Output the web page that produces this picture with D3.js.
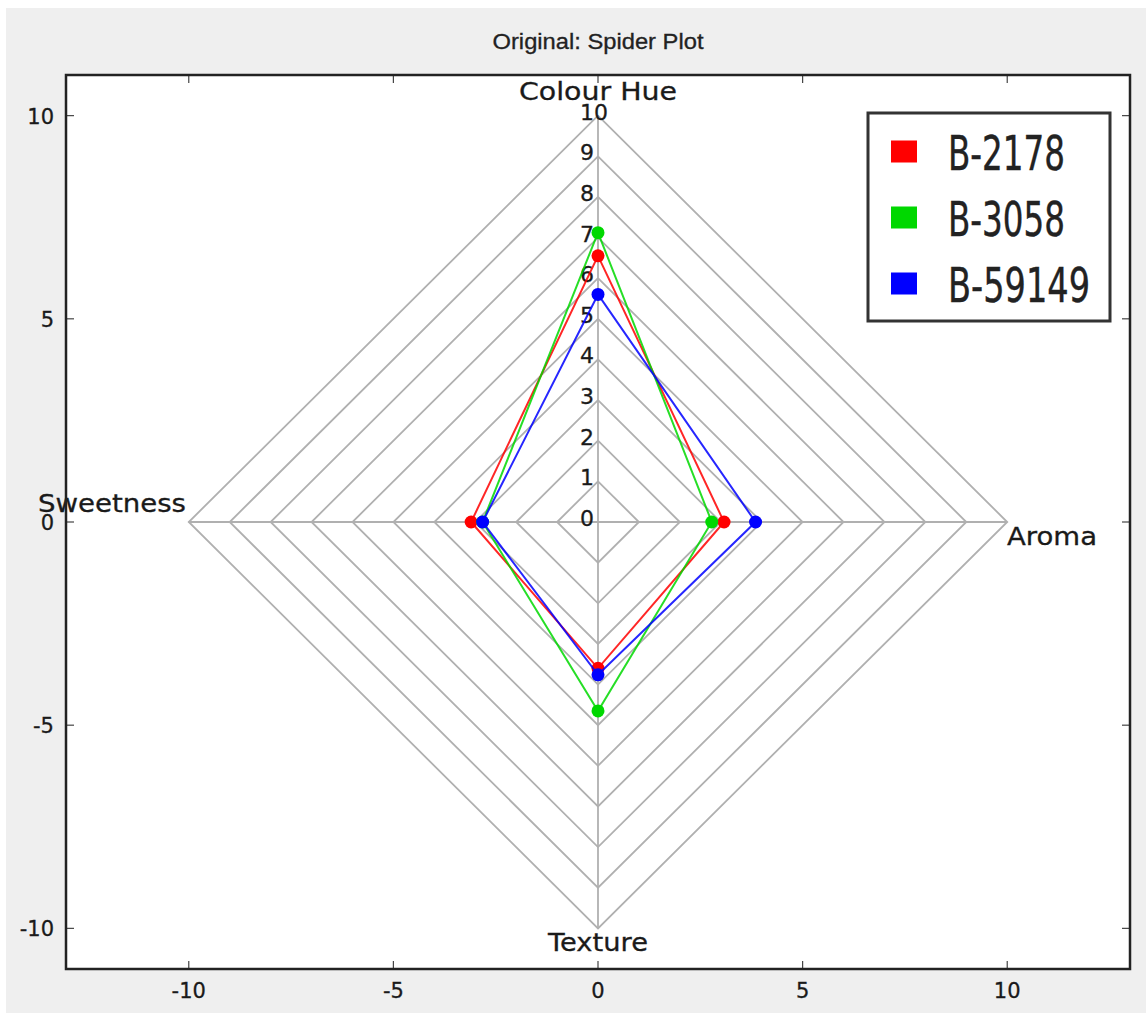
<!DOCTYPE html>
<html>
<head>
<meta charset="utf-8">
<script src="https://cdn.jsdelivr.net/npm/d3@7"></script>
<style>
  html, body { margin: 0; padding: 0; background: #ffffff; }
  svg { display: block; }
</style>
</head>
<body>
<script>
// ---- data ----
const axesNames = ["Colour Hue", "Aroma", "Texture", "Sweetness"];
const seriesNames = ["B-2178", "B-3058", "B-59149"];
const seriesColors = ["#ff0000", "#00d800", "#0000ff"];
const valuesB2178 = [6.55, 3.08, 3.6, 3.1];
const valuesB3058 = [7.12, 2.78, 4.65, 2.82];
const valuesB59149 = [5.6, 3.85, 3.76, 2.82];
const seriesValues = [valuesB2178, valuesB3058, valuesB59149];
const ringLevels = [0, 1, 2, 3, 4, 5, 6, 7, 8, 9, 10];
const axisTicks = [-10, -5, 0, 5, 10];
const titleText = "Original: Spider Plot";

// ---- layout ----
const W = 1146, H = 1013;
const svg = d3.select("body").append("svg").attr("width", W).attr("height", H);
svg.append("rect").attr("x", 6).attr("y", 8).attr("width", W - 6).attr("height", H - 8).attr("fill", "#efefef");

const L = 66, R = 1130, T = 75, B = 969;
const x = d3.scaleLinear().domain([-13, 13]).range([L, R]);
const y = d3.scaleLinear().domain([-11, 11]).range([B, T]);

svg.append("rect").attr("x", L).attr("y", T).attr("width", R - L).attr("height", B - T).attr("fill", "#ffffff");

// direction vectors: up, right, down, left
const dirs = [[0, 1], [1, 0], [0, -1], [-1, 0]];
const pt = (i, v) => [x(dirs[i][0] * v), y(dirs[i][1] * v)];

const g = svg.append("g");
const line = d3.line();
// rings
ringLevels.filter(r => r > 0).forEach(r => {
  const pts = dirs.map((d, i) => pt(i, r));
  pts.push(pts[0]);
  g.append("path").attr("d", line(pts)).attr("fill", "none")
    .attr("stroke", "#b0b0b0").attr("stroke-width", 1.8);
});
// spokes
dirs.forEach((d, i) => {
  const p0 = pt(i, 0), p1 = pt(i, 10);
  g.append("line").attr("x1", p0[0]).attr("y1", p0[1]).attr("x2", p1[0]).attr("y2", p1[1])
    .attr("stroke", "#b0b0b0").attr("stroke-width", 1.8);
});

// ring labels
ringLevels.forEach(r => {
  g.append("text").attr("x", x(0) - 18).attr("y", y(r) + 4)
    .attr("font-family", "DejaVu Sans").attr("font-size", 22).attr("fill", "#1a1a1a")
    .attr("stroke", "#1a1a1a").attr("stroke-width", 0.3)
    .text(r);
});

// axis labels
const lab = [
  {t: axesNames[0], x: x(0), y: 100, a: "middle", w: 158},
  {t: axesNames[1], x: 1007, y: 545, a: "start", w: 90},
  {t: axesNames[2], x: x(0), y: 951, a: "middle", w: 100},
  {t: axesNames[3], x: 186, y: 512, a: "end", w: 148}
];
lab.forEach(l => {
  g.append("text").attr("x", l.x).attr("y", l.y).attr("text-anchor", l.a)
    .attr("font-family", "DejaVu Sans").attr("font-size", 24).attr("fill", "#1a1a1a")
    .attr("stroke", "#1a1a1a").attr("stroke-width", 0.3)
    .attr("textLength", l.w).attr("lengthAdjust", "spacingAndGlyphs")
    .text(l.t);
});

// series
seriesValues.forEach((vals, si) => {
  const pts = vals.map((v, i) => pt(i, v));
  const closed = pts.concat([pts[0]]);
  g.append("path").attr("d", line(closed)).attr("fill", "none")
    .attr("stroke", seriesColors[si]).attr("stroke-width", 2).attr("opacity", 0.85);
  g.selectAll(null).data(pts).enter().append("circle")
    .attr("cx", d => d[0]).attr("cy", d => d[1]).attr("r", 6.5)
    .attr("fill", seriesColors[si]);
});

// axes ticks (inward) on all sides
const tk = svg.append("g");
axisTicks.forEach(v => {
  tk.append("line").attr("x1", x(v)).attr("x2", x(v)).attr("y1", B).attr("y2", B - 8).attr("stroke", "#444").attr("stroke-width", 1.2);
  tk.append("line").attr("x1", x(v)).attr("x2", x(v)).attr("y1", T).attr("y2", T + 8).attr("stroke", "#444").attr("stroke-width", 1.2);
  tk.append("line").attr("y1", y(v)).attr("y2", y(v)).attr("x1", L).attr("x2", L + 8).attr("stroke", "#444").attr("stroke-width", 1.2);
  tk.append("line").attr("y1", y(v)).attr("y2", y(v)).attr("x1", R).attr("x2", R - 8).attr("stroke", "#444").attr("stroke-width", 1.2);
  tk.append("text").attr("x", x(v)).attr("y", 998).attr("text-anchor", "middle")
    .attr("font-family", "DejaVu Sans").attr("font-size", 21).attr("fill", "#1a1a1a")
    .attr("stroke", "#1a1a1a").attr("stroke-width", 0.3).text(v);
  tk.append("text").attr("x", 54).attr("y", y(v) + 8).attr("text-anchor", "end")
    .attr("font-family", "DejaVu Sans").attr("font-size", 21).attr("fill", "#1a1a1a")
    .attr("stroke", "#1a1a1a").attr("stroke-width", 0.3).text(v);
});

// frame
svg.append("rect").attr("x", L).attr("y", T).attr("width", R - L).attr("height", B - T)
  .attr("fill", "none").attr("stroke", "#222").attr("stroke-width", 2.5);

// title
svg.append("text").attr("x", 598).attr("y", 49).attr("text-anchor", "middle")
  .attr("font-family", "Liberation Sans").attr("font-size", 22).attr("fill", "#222")
  .attr("stroke", "#222").attr("stroke-width", 0.3)
  .attr("textLength", 211).attr("lengthAdjust", "spacingAndGlyphs").text(titleText);

// legend
const lg = svg.append("g");
lg.append("rect").attr("x", 868).attr("y", 113).attr("width", 242).attr("height", 208)
  .attr("fill", "#ffffff").attr("stroke", "#333").attr("stroke-width", 3);
const rowY = [151.5, 217.5, 283.5];
const textW = [117, 117, 142];
seriesNames.forEach((n, i) => {
  lg.append("rect").attr("x", 891).attr("y", rowY[i] - 11).attr("width", 26).attr("height", 22)
    .attr("fill", seriesColors[i]);
  lg.append("text").attr("x", 948).attr("y", rowY[i] + 18)
    .attr("font-family", "DejaVu Sans Condensed, DejaVu Sans").attr("font-size", 48).attr("fill", "#222")
    .attr("stroke", "#222").attr("stroke-width", 0.4)
    .attr("textLength", textW[i]).attr("lengthAdjust", "spacingAndGlyphs").text(n);
});
</script>
</body>
</html>
